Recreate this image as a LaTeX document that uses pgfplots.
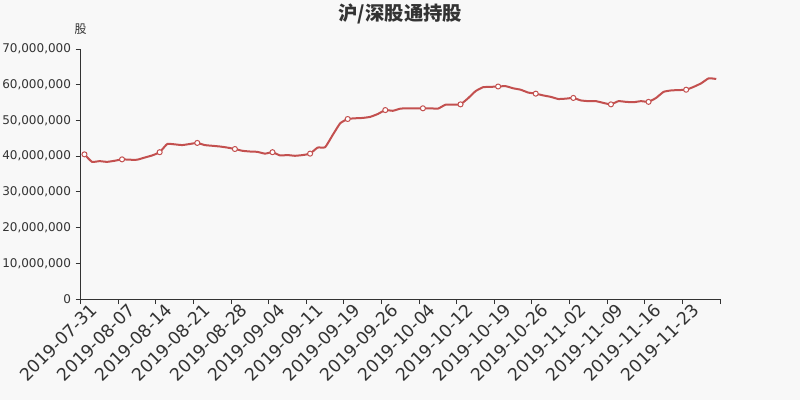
\documentclass[border=0pt]{standalone}
\usepackage{pgfplots}
\pgfplotsset{compat=1.18}
\usepackage{pgfplotstable}
\usepackage{fontspec}
\setmainfont{DejaVu Sans}
\newfontfamily\cjk{Noto Sans CJK SC}

\definecolor{bgcol}{HTML}{F8F8F8}
\definecolor{axiscol}{HTML}{333333}
\definecolor{linecol}{HTML}{C3504F}

% holdings by trading day (index, shares)
\pgfplotstableread{
i y
0 40500000
1 38400000
2 38600000
3 38400000
4 38700000
5 39100000
6 39000000
7 39000000
8 39600000
9 40200000
10 41100000
11 43400000
12 43300000
13 43100000
14 43400000
15 43700000
16 43100000
17 42900000
18 42700000
19 42400000
20 42000000
21 41500000
22 41300000
23 41200000
24 40700000
25 41100000
26 40200000
27 40300000
28 40100000
29 40300000
30 40700000
31 42400000
32 42500000
33 45900000
34 49200000
35 50400000
36 50600000
37 50700000
38 51000000
39 51800000
40 52900000
41 52700000
42 53300000
43 53400000
44 53400000
45 53400000
46 53400000
47 53300000
48 54400000
49 54400000
50 54500000
51 56200000
52 58200000
53 59300000
54 59400000
55 59500000
56 59600000
57 59000000
58 58600000
59 57800000
60 57500000
61 57000000
62 56600000
63 56000000
64 56100000
65 56300000
66 55600000
67 55400000
68 55400000
69 54900000
70 54500000
71 55400000
72 55200000
73 55100000
74 55400000
75 55200000
76 56300000
77 58000000
78 58400000
79 58500000
80 58600000
81 59400000
82 60400000
83 61800000
84 61600000
}\holdings

\begin{document}
\begin{tikzpicture}
\path[use as bounding box, fill=bgcol] (-60.525pt,-75.75pt) rectangle (539.475pt,224.25pt);
\begin{axis}[
  scale only axis,
  width=479.475pt, height=187.5pt,
  xmin=0, xmax=85, ymin=0, ymax=70000000,
  axis x line*=bottom, axis y line*=left,
  axis line style={draw=axiscol, line width=0.75pt, -},
  tick align=outside, major tick length=3.75pt,
  tick style={draw=axiscol, line width=0.75pt},
  xtick={0,5,...,85}, xticklabels={},
  extra x ticks={0.5,5.5,...,80.5},
  extra x tick labels={\mbox{2019-07-31},\mbox{2019-08-07},\mbox{2019-08-14},\mbox{2019-08-21},\mbox{2019-08-28},\mbox{2019-09-04},\mbox{2019-09-11},\mbox{2019-09-19},\mbox{2019-09-26},\mbox{2019-10-04},\mbox{2019-10-12},\mbox{2019-10-19},\mbox{2019-10-26},\mbox{2019-11-02},\mbox{2019-11-09},\mbox{2019-11-16},\mbox{2019-11-23}},
  extra x tick style={major tick length=0pt},
  xticklabel style={rotate=45, anchor=north east, inner sep=0pt, font=\fontsize{13}{13}\selectfont, text=axiscol, yshift=-4pt, xshift=1pt},
  ytick={0,10000000,20000000,30000000,40000000,50000000,60000000,70000000},
  scaled y ticks=false,
  yticklabel style={font=\fontsize{9}{9}\selectfont, text=axiscol, /pgf/number format/.cd, fixed, precision=0, 1000 sep={,}, assume math mode=true},
  clip=false,
]
\addplot[color=linecol, line width=1.5pt, line join=round, smooth, tension=0.25,
  mark=*, mark repeat=5, mark size=1.9pt,
  mark options={fill=white, draw=linecol, line width=0.75pt, solid}]
  table[x expr=\thisrow{i}+0.5, y=y] {\holdings};
\node[font=\cjk\bfseries\fontsize{14.5}{14.5}\selectfont, text=axiscol] at (rel axis cs:0.5,1) [yshift=26.25pt] {沪/深股通持股};
\node[font=\cjk\fontsize{9}{9}\selectfont, text=axiscol] at (rel axis cs:0,1) [yshift=15pt] {股};
\end{axis}
\end{tikzpicture}
\end{document}
